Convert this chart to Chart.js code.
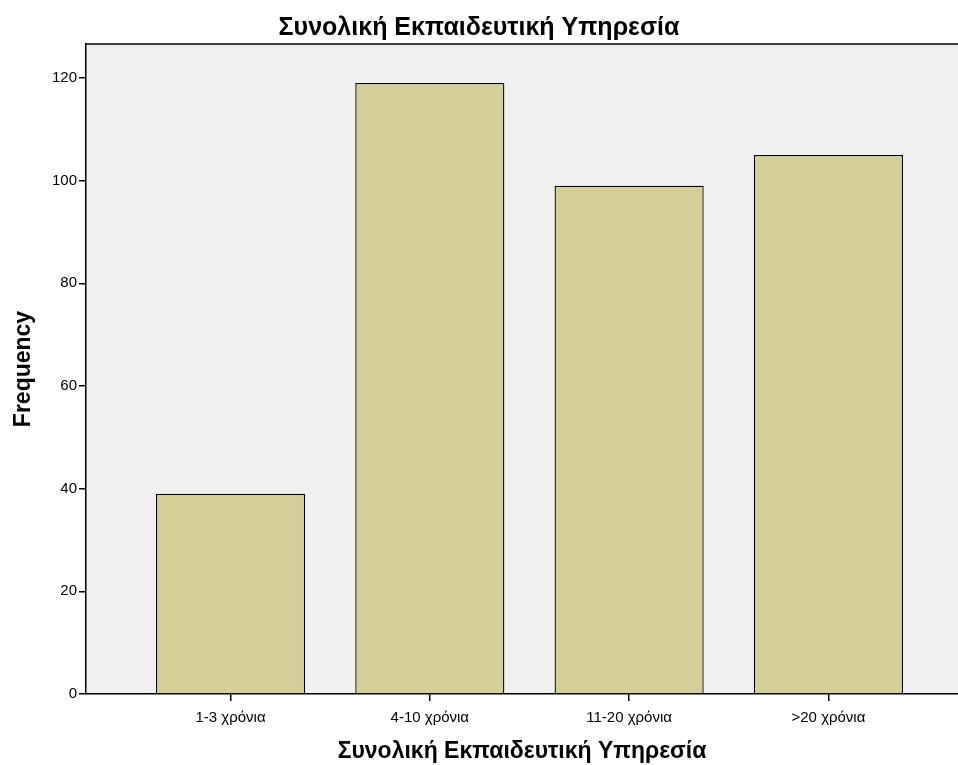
<!DOCTYPE html>
<html>
<head>
<meta charset="utf-8">
<script src="https://cdn.jsdelivr.net/npm/chart.js@4/dist/chart.umd.min.js"></script>
<style>
  html, body { margin: 0; padding: 0; background: #fff; overflow: hidden; }
  #wrap { width: 958px; height: 765px; }
</style>
</head>
<body>
<div id="wrap"><canvas id="chart" width="958" height="765"></canvas></div>
<script>
// Δεδομένα
const categories = ["1-3 χρόνια", "4-10 χρόνια", "11-20 χρόνια", ">20 χρόνια"];
const frequencies = [39, 119, 99, 105];
const yTicks = [0, 20, 40, 60, 80, 100, 120];

const FONT = "'Liberation Sans', Arial, sans-serif";

// plot background + top frame line
const plotFrame = {
  id: "plotFrame",
  beforeDraw(chart) {
    const { ctx, chartArea: a } = chart;
    ctx.save();
    ctx.fillStyle = "#f0f0f0";
    ctx.fillRect(a.left, a.top, a.right - a.left, a.bottom - a.top);
    ctx.restore();
  },
  afterDraw(chart) {
    const { ctx, chartArea: a } = chart;
    ctx.save();
    ctx.strokeStyle = "#000";
    ctx.lineWidth = 1.5;
    ctx.beginPath();
    ctx.moveTo(a.left, a.top);
    ctx.lineTo(a.right, a.top);
    ctx.stroke();
    ctx.restore();
  },
};

new Chart(document.getElementById("chart"), {
  type: "bar",
  data: {
    datasets: [
      {
        label: "Frequency",
        data: frequencies.map((v, i) => ({ x: i + 1, y: v })),
        backgroundColor: "#d4cf98",
        borderColor: "#000",
        borderWidth: 1.3,
        barPercentage: 0.748,
        categoryPercentage: 1,
      },
    ],
  },
  options: {
    responsive: false,
    animation: false,
    layout: { padding: 0 },
    plugins: {
      legend: { display: false },
      tooltip: { enabled: false },
      title: {
        display: true,
        text: "Συνολική Εκπαιδευτική Υπηρεσία",
        color: "#000",
        font: { family: FONT, size: 25, weight: "bold" },
        padding: { top: 13, bottom: 1 },
      },
    },
    scales: {
      x: {
        type: "linear",
        offset: false,
        min: 0.275,
        max: 4.65,
        afterBuildTicks: (axis) => {
          axis.ticks = categories.map((c, i) => ({ value: i + 1 }));
        },
        afterFit: (axis) => { axis.height = 71; },
        ticks: {
          autoSkip: false,
          maxRotation: 0,
          color: "#000",
          padding: 8,
          font: { family: FONT, size: 15 },
          callback: (v) => categories[v - 1],
        },
        grid: {
          offset: false,
          drawOnChartArea: false,
          drawTicks: true,
          tickLength: 7,
          color: "#000",
          lineWidth: 1.5,
        },
        border: { display: true, color: "#000", width: 1.5 },
        title: {
          display: true,
          text: "Συνολική Εκπαιδευτική Υπηρεσία",
          color: "#000",
          font: { family: FONT, size: 23, weight: "bold" },
          padding: { top: 7, bottom: 0 },
        },
      },
      y: {
        min: 0,
        max: 126.6,
        afterBuildTicks: (axis) => {
          axis.ticks = yTicks.map((v) => ({ value: v }));
        },
        afterFit: (axis) => { axis.width = 86; },
        ticks: {
          color: "#000",
          padding: 2,
          font: { family: FONT, size: 15 },
        },
        grid: {
          drawOnChartArea: false,
          drawTicks: true,
          tickLength: 7,
          color: "#000",
          lineWidth: 1.5,
        },
        border: { display: true, color: "#000", width: 1.5 },
        title: {
          display: true,
          text: "Frequency",
          color: "#000",
          font: { family: FONT, size: 23, weight: "bold" },
          padding: { top: 10, bottom: 0 },
        },
      },
    },
  },
  plugins: [plotFrame],
});
</script>
</body>
</html>
